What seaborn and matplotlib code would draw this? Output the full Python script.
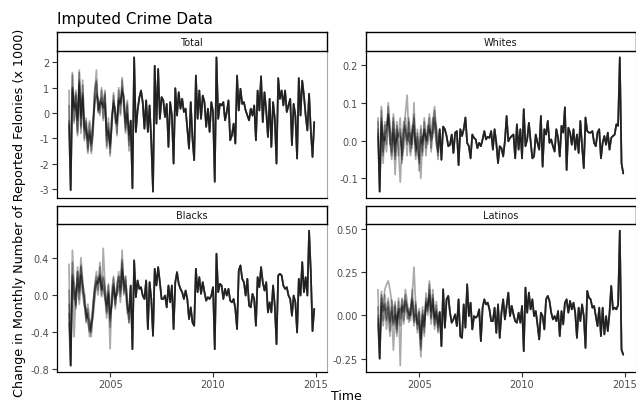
import numpy as np
import pandas as pd
import matplotlib
matplotlib.use("Agg")
import matplotlib.pyplot as plt
import seaborn as sns

# ---------------------------------------------------------------------------
# Monthly change in reported felonies (x 1000), Jan 2003 - Dec 2014.
# Jan 2003 - Dec 2005 is imputed (five draws); 2006 onwards is observed.
# ---------------------------------------------------------------------------
groups = ["Total", "Whites", "Blacks", "Latinos"]
start_year = 2003

total_imputed = [
    [0.3, -3.05, 1.5, -0.4, 0.8, -0.2, 1.2, -0.6, 1.1, -0.5, -0.8, -1.0, -0.3, -1.6, -0.9, 0.8, 1.7, 0.1, 0.5, 0.4, 0.3, 0.9, -1.3, -0.2, -1.7, -0.1, 0.3, 0.2, -0.9, 1.0, -0.1, 1.4, 0.2, -0.8, 0.5, -1.3],
    [-0.4, -3.05, 0.9, 0.2, 0.3, -0.7, 1.6, -0.1, 0.7, -1.1, -0.2, -1.5, -0.9, -1.2, -0.3, 0.3, 0.7, 0.6, -0.1, 0.9, -0.3, 0.4, -0.7, -0.8, -1.3, -0.6, 0.8, -0.4, -0.3, 0.5, 0.4, 0.8, 0.7, -0.2, -0.1, -0.8],
    [-0.5, -3.05, 1.0, 0.3, 0.9, -0.9, 1.3, -0.8, 0.6, -0.6, -0.3, -1.6, -0.7, -1.0, -0.4, 0.9, 1.3, 0.0, 0.4, 0.4, 0.2, 0.8, -1.4, -0.7, -1.2, -0.2, 0.5, 0.1, -0.4, 0.5, 0.4, 0.9, 0.6, -0.7, 0.4, -1.1],
    [-0.3, -3.05, 1.0, 0.1, 0.4, -0.8, 1.7, -0.5, 1.3, -0.7, -0.4, -1.4, -0.4, -1.5, -0.5, 0.4, 0.8, 0.5, 0.0, 1.0, 0.2, 0.3, -1.1, -0.6, -1.6, -0.2, 0.4, 0.0, -0.8, 0.9, 0.0, 1.3, 0.5, -0.4, 0.3, -1.5],
    [0.9, -3.05, 1.6, -0.3, 0.7, -0.3, 1.1, -0.2, 0.8, -1.0, -0.6, -1.1, -0.8, -1.3, -0.8, 0.7, 1.2, 0.1, 0.3, 0.6, -0.2, 0.7, -0.9, -0.4, -1.4, -0.5, 0.7, -0.2, -0.5, 0.6, 0.3, 1.0, 0.2, -0.6, 0.0, -0.9],
]
total_observed = [
    -0.3, -2.98, 2.2, -0.75, 0.1, 0.6, 0.89, 0.43, -0.62, 0.5, -0.75, 0.3, -1.14, -3.11, 1.87, -0.42, 1.74, -0.23,
    0.63, 0.5, -0.16, 0.36, -1.34, 0.43, -0.1, -2.0, 0.98, -0.1, 0.82, 0.17, 0.56, 0.04, 0.17, -0.62, -1.41, 0.43,
    -1.01, -1.87, 1.48, -0.23, 0.89, -0.23, 0.69, 0.43, -0.55, 0.17, -0.75, 0.43, 0.04, -2.72, 2.2, -0.23, 0.36, 0.3,
    0.43, -0.29, 0.04, 0.5, -1.08, -0.88, -0.42, -1.21, 1.48, 0.1, 0.96, 0.36, 0.43, 0.1, -0.1, -0.29, 0.17, -0.1,
    0.3, -1.08, 0.89, 0.1, 1.45, -0.36, 0.82, 0.1, -0.95, 0.56, -1.34, 0.43, -0.23, -2.0, 1.38, 0.56, 0.89, 0.3,
    0.89, 0.04, 0.3, 0.56, -1.27, 0.36, -0.1, -1.8, 1.38, -0.1, 1.28, 0.69, -0.1, -0.69, 0.76, -0.69, -1.74, -0.36,
]

whites_imputed = [
    [0.05, -0.135, 0.09, -0.04, 0.05, -0.01, 0.07, 0.04, -0.03, 0.06, -0.05, 0.04, -0.03, -0.11, -0.01, 0.03, 0.07, 0.12, 0.01, 0.02, -0.02, 0.10, -0.05, 0.02, -0.06, 0.04, -0.03, 0.06, -0.02, 0.03, 0.07, -0.03, 0.05, 0.09, 0.02, -0.05],
    [0.02, -0.135, 0.04, 0.01, 0.00, 0.03, 0.09, -0.01, -0.01, 0.03, -0.09, 0.01, 0.02, 0.06, -0.06, 0.00, 0.03, -0.04, 0.05, -0.03, 0.03, 0.02, -0.01, -0.02, -0.03, -0.10, 0.01, 0.02, 0.01, -0.01, 0.03, 0.02, 0.02, 0.05, 0.04, -0.01],
    [0.01, -0.135, 0.06, -0.03, 0.02, 0.03, 0.07, 0.00, -0.04, 0.05, -0.04, 0.03, 0.01, 0.02, -0.05, 0.03, 0.04, 0.00, 0.02, -0.04, 0.02, 0.06, -0.01, -0.03, -0.05, 0.01, -0.01, 0.03, 0.00, 0.02, 0.04, 0.00, 0.01, 0.06, 0.00, -0.03],
    [0.03, -0.135, 0.05, -0.06, 0.04, 0.04, 0.06, 0.00, -0.05, 0.02, -0.03, 0.05, -0.04, 0.01, -0.02, 0.05, 0.02, -0.01, 0.06, 0.01, -0.01, 0.07, -0.04, 0.03, -0.08, 0.00, 0.00, 0.03, -0.04, 0.04, 0.02, 0.01, 0.06, 0.04, -0.01, -0.03],
    [0.06, -0.135, 0.08, 0.00, 0.01, -0.03, 0.10, 0.03, 0.00, 0.07, -0.01, 0.00, 0.01, 0.03, -0.04, -0.02, 0.06, 0.01, 0.00, -0.01, 0.04, 0.04, -0.03, 0.01, -0.02, 0.03, -0.04, 0.05, 0.01, 0.00, 0.06, -0.02, 0.03, 0.08, 0.03, -0.04],
]
whites_observed = [
    0.030, -0.051, 0.037, 0.030, 0.012, -0.015, -0.011, 0.016, -0.033, 0.021, 0.025, -0.065, 0.030, 0.012, 0.030,
    0.061, -0.006, -0.015, -0.047, 0.016, 0.007, 0.003, -0.020, -0.006, -0.015, 0.003, 0.025, 0.003, 0.010, 0.007,
    0.025, -0.024, 0.030, -0.006, -0.060, -0.015, -0.020, -0.042, -0.002, 0.065, -0.002, 0.007, 0.012, 0.016, -0.047,
    0.043, -0.024, 0.030, -0.047, 0.083, -0.015, 0.003, 0.047, -0.002, -0.047, -0.042, 0.016, -0.006, -0.024, 0.065,
    -0.069, 0.030, 0.016, 0.052, -0.006, 0.003, -0.015, -0.029, 0.030, 0.007, -0.042, 0.039, 0.021, 0.088, -0.078,
    0.034, 0.021, -0.011, 0.030, -0.024, 0.016, -0.033, 0.052, -0.015, -0.073, 0.061, 0.025, 0.021, 0.021, 0.025,
    -0.006, -0.015, 0.021, 0.030, -0.047, -0.006, 0.012, -0.011, 0.021, -0.024, 0.007, 0.012, 0.016, 0.043, 0.039,
    0.220, -0.060, -0.087,
]

blacks_imputed = [
    [0.05, -0.76, 0.48, 0.10, -0.10, 0.30, 0.05, 0.40, 0.12, 0.02, -0.30, -0.10, -0.25, -0.45, -0.10, 0.08, 0.25, 0.05, 0.30, -0.02, 0.50, 0.10, -0.20, 0.00, -0.58, 0.05, 0.20, -0.15, 0.10, 0.25, 0.05, 0.48, 0.00, 0.20, -0.05, -0.30],
    [-0.30, -0.76, 0.15, -0.05, 0.05, 0.12, -0.10, 0.20, 0.00, -0.12, -0.15, -0.30, -0.40, -0.30, -0.25, -0.05, 0.10, 0.18, 0.18, 0.10, 0.05, -0.05, -0.10, 0.12, -0.20, -0.12, 0.08, -0.02, 0.00, 0.10, -0.08, 0.25, 0.15, 0.05, -0.20, -0.15],
    [-0.10, -0.76, 0.20, 0.02, -0.15, 0.25, 0.02, 0.22, 0.10, -0.10, -0.28, -0.15, -0.38, -0.30, -0.12, 0.06, 0.12, 0.14, 0.22, 0.06, 0.10, 0.00, -0.18, 0.04, -0.28, -0.10, 0.12, -0.10, 0.04, 0.20, 0.02, 0.35, 0.02, 0.16, -0.08, -0.26],
    [0.33, -0.76, 0.35, -0.45, 0.00, 0.25, 0.08, 0.30, 0.15, -0.08, -0.25, -0.20, -0.45, -0.35, -0.15, 0.10, 0.20, 0.00, 0.35, 0.05, 0.20, -0.02, -0.25, 0.10, -0.35, 0.00, 0.10, -0.12, 0.12, 0.20, 0.08, 0.38, 0.10, 0.20, -0.10, -0.30],
    [-0.20, -0.76, 0.22, 0.12, -0.12, 0.18, -0.05, 0.32, 0.02, 0.00, -0.18, -0.25, -0.28, -0.40, -0.22, 0.00, 0.15, 0.12, 0.20, 0.00, 0.18, 0.08, -0.12, 0.02, -0.25, -0.08, 0.18, -0.05, 0.02, 0.15, -0.02, 0.28, 0.05, 0.10, -0.15, -0.18],
]
blacks_observed = [
    0.10, -0.584, 0.371, -0.025, 0.155, 0.065, 0.083, -0.007, -0.044, 0.155, -0.368, 0.137, -0.044, -0.440, 0.281,
    0.101, 0.299, 0.137, -0.044, -0.044, -0.007, -0.134, 0.101, -0.080, 0.101, -0.368, 0.137, 0.245, 0.119, 0.065,
    0.029, -0.044, 0.047, -0.044, -0.260, -0.134, -0.296, -0.332, 0.281, 0.029, 0.191, 0.011, 0.137, 0.029, -0.062,
    -0.025, -0.044, -0.007, 0.083, -0.584, 0.443, 0.029, 0.119, 0.101, -0.044, 0.065, -0.007, 0.065, -0.062, -0.080,
    -0.044, -0.152, -0.368, 0.263, 0.317, 0.173, 0.137, -0.007, 0.173, -0.116, -0.134, 0.011, -0.044, -0.332, 0.191,
    0.083, 0.299, 0.137, 0.047, 0.137, -0.188, -0.080, -0.188, 0.101, -0.116, -0.530, 0.209, 0.227, 0.209, 0.101,
    0.065, 0.083, -0.007, -0.044, -0.224, -0.007, -0.080, -0.404, 0.173, -0.007, 0.353, 0.029, 0.191, -0.007,
    0.69, 0.25, -0.39, -0.15,
]

latinos_imputed = [
    [0.15, -0.25, 0.12, 0.05, 0.15, 0.18, 0.20, 0.15, 0.08, -0.05, 0.06, -0.10, 0.08, -0.29, 0.10, 0.02, 0.15, 0.08, -0.02, 0.05, 0.12, 0.28, 0.05, -0.10, 0.02, -0.20, 0.05, -0.12, 0.13, 0.02, 0.20, 0.03, 0.15, -0.08, 0.06, -0.10],
    [-0.05, -0.25, 0.05, -0.06, 0.04, -0.08, 0.02, -0.12, 0.02, -0.20, 0.00, -0.08, 0.03, 0.04, 0.03, -0.05, 0.06, -0.02, 0.02, -0.03, 0.08, -0.06, 0.00, -0.04, -0.06, -0.24, -0.03, -0.06, 0.05, 0.06, 0.10, -0.05, 0.06, -0.02, 0.00, -0.09],
    [0.00, -0.25, 0.10, 0.02, 0.07, -0.03, 0.08, -0.04, 0.05, -0.06, 0.05, -0.05, 0.04, -0.02, 0.06, 0.02, 0.09, 0.03, 0.01, 0.00, 0.10, -0.03, 0.06, -0.05, 0.02, -0.14, 0.01, -0.07, 0.07, 0.03, 0.15, -0.01, 0.10, -0.05, 0.03, -0.07],
    [0.05, -0.25, 0.14, 0.03, 0.06, -0.02, 0.10, -0.03, 0.09, 0.02, 0.08, -0.12, 0.10, -0.06, 0.05, 0.04, 0.12, 0.02, 0.04, 0.00, 0.15, -0.04, 0.08, -0.05, 0.04, -0.13, 0.00, -0.03, 0.08, 0.00, 0.18, 0.02, 0.09, -0.06, 0.08, -0.04],
    [-0.02, -0.25, 0.07, -0.03, 0.12, 0.03, 0.05, -0.09, 0.03, -0.04, 0.01, -0.03, 0.02, 0.02, 0.09, -0.03, 0.08, 0.06, -0.04, 0.03, 0.09, -0.01, 0.01, -0.08, -0.03, -0.18, 0.03, -0.10, 0.10, 0.05, 0.12, -0.02, 0.12, -0.01, 0.02, -0.05],
]
latinos_observed = [
    0.02, -0.178, 0.151, -0.071, 0.093, 0.113, 0.016, -0.042, -0.023, 0.006, -0.062, 0.093, -0.120, -0.130, 0.064,
    -0.071, 0.180, -0.004, 0.074, -0.081, -0.004, -0.013, -0.004, 0.035, -0.149, 0.045, 0.093, 0.064, 0.074, 0.035,
    -0.033, -0.033, 0.045, -0.101, 0.064, -0.130, 0.016, 0.093, -0.023, 0.055, 0.132, -0.004, 0.055, 0.006, -0.033,
    -0.042, 0.016, -0.042, 0.055, -0.207, 0.161, 0.016, 0.132, 0.035, 0.093, -0.004, 0.025, -0.052, -0.139, 0.016,
    -0.004, -0.081, 0.093, 0.113, 0.084, 0.016, -0.023, -0.004, -0.033, 0.025, -0.120, 0.025, -0.052, 0.074, 0.093,
    0.016, 0.084, 0.035, 0.074, 0.016, -0.130, 0.045, -0.033, 0.064, -0.004, -0.188, 0.142, 0.103, 0.093, 0.045,
    0.055, -0.004, -0.062, 0.045, -0.120, 0.045, -0.110, -0.004, -0.091, 0.016, 0.171, 0.035, 0.045, 0.035,
    0.06, 0.49, -0.198, -0.227,
]

x_ticks = [2005, 2010, 2015]
y_ticks = {
    "Total": [-3, -2, -1, 0, 1, 2],
    "Whites": [-0.1, 0.0, 0.1, 0.2],
    "Blacks": [-0.8, -0.4, 0.0, 0.4],
    "Latinos": [-0.25, 0.0, 0.25, 0.5],
}
y_ticklabels = {
    "Total": ["-3", "-2", "-1", "0", "1", "2"],
    "Whites": ["-0.1", "0.0", "0.1", "0.2"],
    "Blacks": ["-0.8", "-0.4", "0.0", "0.4"],
    "Latinos": ["-0.25", "0.00", "0.25", "0.50"],
}

imputed = {"Total": total_imputed, "Whites": whites_imputed,
           "Blacks": blacks_imputed, "Latinos": latinos_imputed}
observed = {"Total": total_observed, "Whites": whites_observed,
            "Blacks": blacks_observed, "Latinos": latinos_observed}

# long table: one full series per imputation draw (shared observed tail)
rows = []
for g in groups:
    for k, draw in enumerate(imputed[g]):
        series = list(draw) + list(observed[g])
        t = start_year + np.arange(len(series)) / 12.0
        rows.append(pd.DataFrame({"group": g, "draw": k, "time": t, "value": series}))
df = pd.concat(rows, ignore_index=True)

# ---------------------------------------------------------------------------
sns.set_theme(style="ticks")
plt.rcParams["font.family"] = ["DejaVu Sans"]
plt.rcParams["axes.unicode_minus"] = False

W, H = 636, 402
fig = plt.figure(figsize=(W / 100, H / 100), dpi=100)
fig.patch.set_facecolor("white")


def rect(x0, y0, x1, y1):
    return [x0 / W, 1 - y1 / H, (x1 - x0) / W, (y1 - y0) / H]


strip_h = 18.4
panels = {
    "Total": (56.7, 51.7, 326.5, 199.3),
    "Whites": (365.7, 51.7, 635.5, 199.3),
    "Blacks": (56.7, 225.0, 326.5, 373.3),
    "Latinos": (365.7, 225.0, 635.5, 373.3),
}

tmin, tmax = df["time"].min(), df["time"].max()
tpad = 0.05 * (tmax - tmin)

for g in groups:
    x0, y0, x1, y1 = panels[g]
    ax = fig.add_axes(rect(x0, y0, x1, y1))
    sub = df[df["group"] == g]
    sns.lineplot(data=sub, x="time", y="value", units="draw", estimator=None,
                 color="black", alpha=0.33, linewidth=1.25, ax=ax, legend=False)
    lo, hi = sub["value"].min(), sub["value"].max()
    pad = 0.05 * (hi - lo)
    ax.set_ylim(lo - pad, hi + pad)
    ax.set_xlim(tmin - tpad, tmax + tpad)
    ax.set_xlabel("")
    ax.set_ylabel("")
    ax.set_facecolor("white")
    ax.set_yticks(y_ticks[g])
    ax.set_yticklabels(y_ticklabels[g])
    ax.tick_params(axis="y", length=3.3, width=0.8, color="#333333",
                   labelsize=7, labelcolor="#4d4d4d", pad=2.2)
    ax.set_xticks(x_ticks)
    if y1 > 300:
        ax.set_xticklabels([str(v) for v in x_ticks])
        ax.tick_params(axis="x", length=3.3, width=0.8, color="#333333",
                       labelsize=7, labelcolor="#4d4d4d", pad=1.5)
    else:
        ax.tick_params(axis="x", bottom=False, labelbottom=False)
    ax.spines["top"].set_visible(False)
    ax.spines["right"].set_color("#a8a8a8")
    ax.spines["right"].set_linewidth(0.8)
    for s in ("left", "bottom"):
        ax.spines[s].set_color("black")
        ax.spines[s].set_linewidth(0.9)

    # facet strip
    sax = fig.add_axes(rect(x0, y0 - strip_h, x1, y0))
    sax.set_xticks([])
    sax.set_yticks([])
    sax.set_facecolor("white")
    for s in sax.spines.values():
        s.set_color("black")
        s.set_linewidth(1.0)
    sax.text(0.5, 0.5, g, ha="center", va="center", fontsize=7,
             color="#1a1a1a", transform=sax.transAxes)

fig.text(56.7 / W, 1 - 24 / H, "Imputed Crime Data", ha="left",
         va="baseline", fontsize=11, color="black")
fig.text(20 / W, 1 - 212.5 / H,
         "Change in Monthly Number of Reported Felonies (x 1000)",
         rotation=90, ha="center", va="center", fontsize=9.2, color="black")
fig.text(346 / W, 1 - 400.5 / H, "Time", ha="center", va="baseline",
         fontsize=9, color="black")

fig.savefig("out.png", dpi=100, facecolor="white")
